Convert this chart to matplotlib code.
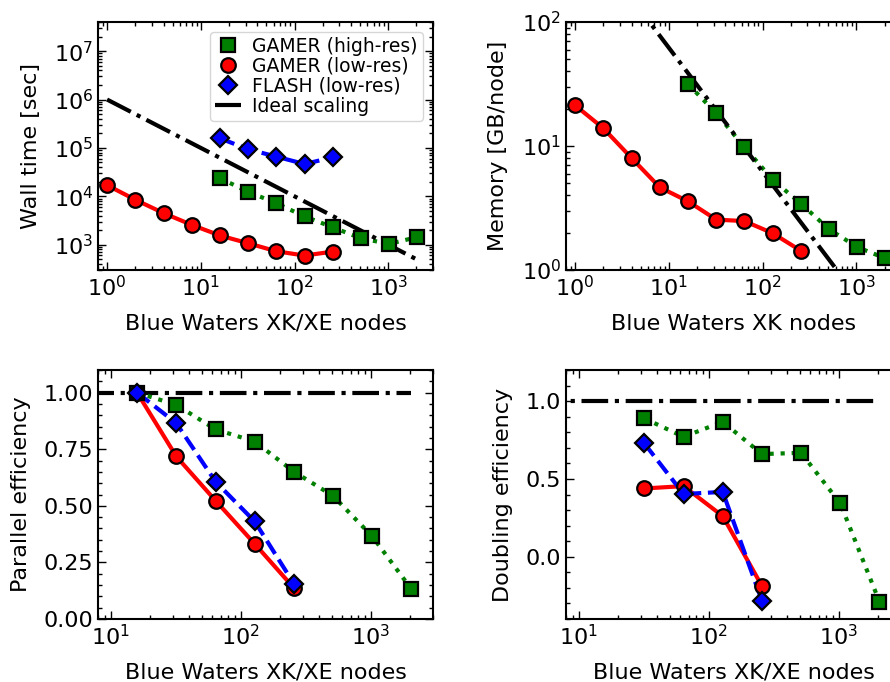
import matplotlib
matplotlib.use('Agg')
import matplotlib.pyplot as plt
from matplotlib.ticker import MultipleLocator

# node counts
nodes_low = [1, 2, 4, 8, 16, 32, 64, 128, 256]
nodes_high = [16, 32, 64, 128, 256, 512, 1024, 2048]
nodes_flash = [16, 32, 64, 128, 256]
nodes_ideal = [1, 2048]

# wall time [sec]
time_high = [2.37e4, 1.24e4, 7.2e3, 3.84e3, 2.29e3, 1.35e3, 1.04e3, 1.44e3]
time_low = [1.7e4, 8.5e3, 4.5e3, 2.57e3, 1.55e3, 1.07e3, 731, 597, 720]
time_flash = [1.58e5, 9.4e4, 6.6e4, 4.65e4, 6.4e4]
time_ideal = [1.0e6, 488]

# memory [GB/node]
mem_high = [31.6, 18.4, 9.8, 5.35, 3.43, 2.13, 1.53, 1.24]
mem_low = [21.3, 13.9, 8.0, 4.64, 3.58, 2.55, 2.48, 1.98, 1.43]
mem_ideal = [620, 0.303]

# parallel efficiency
peff_nodes_high = [16, 32, 64, 128, 256, 512, 1024, 2048]
peff_high = [1.0, 0.946, 0.838, 0.784, 0.651, 0.544, 0.365, 0.132]
peff_nodes_low = [16, 32, 64, 128, 256]
peff_low = [1.0, 0.718, 0.523, 0.332, 0.137]
peff_flash = [1.0, 0.865, 0.607, 0.431, 0.156]
peff_ideal = [1.0, 1.0]

# doubling efficiency
deff_nodes_high = [32, 64, 128, 256, 512, 1024, 2048]
deff_high = [0.889, 0.771, 0.867, 0.66, 0.668, 0.343, -0.289]
deff_nodes_low = [32, 64, 128, 256]
deff_low = [0.439, 0.454, 0.261, -0.188]
deff_flash = [0.728, 0.403, 0.417, -0.283]
deff_ideal = [1.0, 1.0]

plt.rcParams['font.family'] = ['DejaVu Sans']
plt.rcParams['font.size'] = 16
plt.rcParams['mathtext.default'] = 'regular'

LW = 3
MS = 10.5
MEW = 1.6


def style_axis(ax):
    ax.tick_params(which='both', direction='in', top=True, right=True)
    ax.tick_params(which='major', length=6, width=1.0, labelsize=16)
    ax.tick_params(which='minor', length=3, width=1.0)
    for sp in ax.spines.values():
        sp.set_linewidth(1.5)


def draw(ax, xs, ys, color, ls, marker, ms, label=None):
    ax.plot(xs, ys, color=color, ls=ls, lw=LW, zorder=2)
    ax.plot(xs, ys, ls='none', marker=marker, ms=ms, mfc=color,
            mec='k', mew=MEW, label=label, zorder=3)


fig = plt.figure(figsize=(8.9, 6.82), dpi=100)
ax1 = fig.add_axes([0.1101, 0.6041, 0.3764, 0.3636])
ax2 = fig.add_axes([0.6360, 0.6041, 0.3764, 0.3636])
ax3 = fig.add_axes([0.1101, 0.0924, 0.3764, 0.3650])
ax4 = fig.add_axes([0.6360, 0.0924, 0.3764, 0.3650])

# wall time
draw(ax1, nodes_high, time_high, 'green', ':', 's', MS, 'GAMER (high-res)')
draw(ax1, nodes_low, time_low, 'red', '-', 'o', MS, 'GAMER (low-res)')
draw(ax1, nodes_flash, time_flash, 'blue', '--', 'D', MS - 1, 'FLASH (low-res)')
ax1.plot(nodes_ideal, time_ideal, 'k-.', lw=LW, zorder=2.5, label='Ideal scaling')
ax1.set_xscale('log')
ax1.set_yscale('log')
ax1.set_xlim(0.8, 3000)
ax1.set_ylim(3e2, 4e7)
ax1.set_xlabel('Blue Waters XK/XE nodes', labelpad=10)
ax1.set_ylabel('Wall time [sec]', labelpad=9)
ax1.legend(loc='upper right', numpoints=1, fontsize=13.5, handlelength=1.4,
           handletextpad=0.6, labelspacing=0.05, borderpad=0.25,
           borderaxespad=0.55, framealpha=0.8)

# memory
draw(ax2, nodes_high, mem_high, 'green', ':', 's', MS)
draw(ax2, nodes_low, mem_low, 'red', '-', 'o', MS)
ax2.plot(nodes_ideal, mem_ideal, 'k-.', lw=LW, zorder=2.5)
ax2.set_xscale('log')
ax2.set_yscale('log')
ax2.set_xlim(0.8, 3000)
ax2.set_ylim(1, 100)
ax2.set_xlabel('Blue Waters XK nodes', labelpad=10)
ax2.set_ylabel('Memory [GB/node]', labelpad=10)

# parallel efficiency
ax3.plot(nodes_ideal, peff_ideal, 'k-.', lw=LW, zorder=1.5)
draw(ax3, peff_nodes_high, peff_high, 'green', ':', 's', MS)
draw(ax3, peff_nodes_low, peff_low, 'red', '-', 'o', MS)
draw(ax3, peff_nodes_low, peff_flash, 'blue', '--', 'D', MS - 1)
ax3.set_xscale('log')
ax3.set_xlim(8, 3000)
ax3.set_ylim(0, 1.1)
ax3.yaxis.set_major_locator(MultipleLocator(0.25))
ax3.yaxis.set_minor_locator(MultipleLocator(0.05))
ax3.yaxis.set_major_formatter(plt.FormatStrFormatter('%.2f'))
ax3.set_xlabel('Blue Waters XK/XE nodes', labelpad=10)
ax3.set_ylabel('Parallel efficiency', labelpad=9)

# doubling efficiency
ax4.plot(nodes_ideal, deff_ideal, 'k-.', lw=LW, zorder=1.5)
draw(ax4, deff_nodes_high, deff_high, 'green', ':', 's', MS)
draw(ax4, deff_nodes_low, deff_low, 'red', '-', 'o', MS)
draw(ax4, deff_nodes_low, deff_flash, 'blue', '--', 'D', MS - 1)
ax4.set_xscale('log')
ax4.set_xlim(8, 3000)
ax4.set_ylim(-0.4, 1.2)
ax4.yaxis.set_major_locator(MultipleLocator(0.5))
ax4.yaxis.set_minor_locator(MultipleLocator(0.1))
ax4.set_xlabel('Blue Waters XK/XE nodes', labelpad=10)
ax4.set_ylabel('Doubling efficiency', labelpad=9)

for ax in (ax1, ax2, ax3, ax4):
    style_axis(ax)

fig.savefig('out.png', dpi=100)
plt.close('all')
